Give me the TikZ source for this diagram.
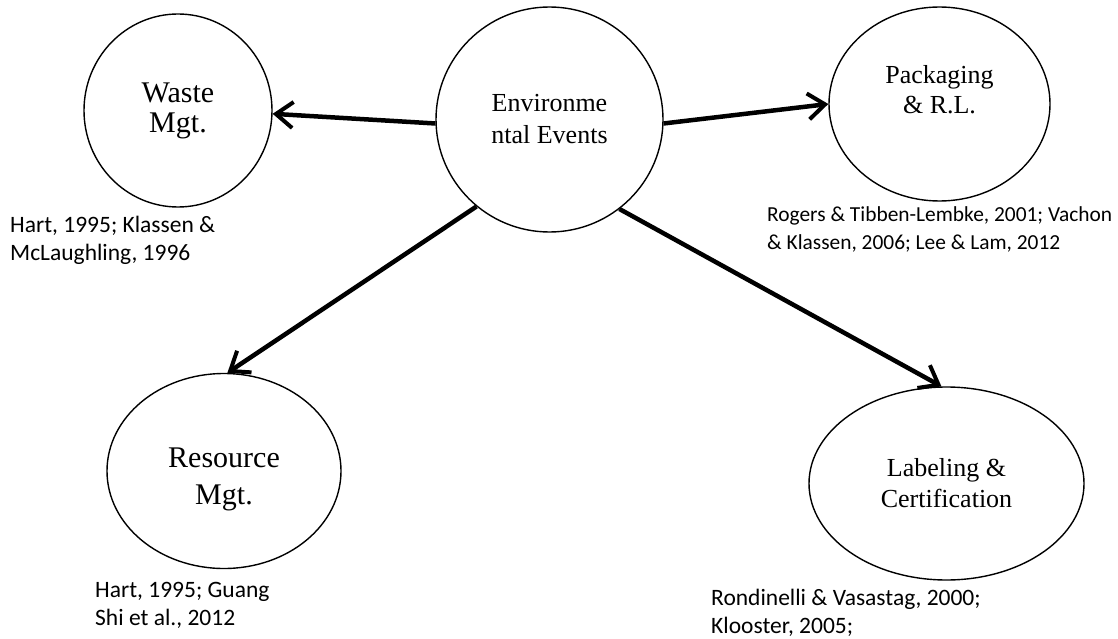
\documentclass[tikz,border=0pt]{standalone}
\usepackage{fontspec}
\setmainfont{Liberation Serif}
\newfontfamily\refsfont{Carlito}
\usetikzlibrary{shapes.geometric,arrows.meta}

\begin{document}
\begin{tikzpicture}[x=1pt,y=-1pt,
		circ/.style={draw,ellipse,line width=1.4pt,inner sep=0pt,align=center},
		circtxt/.style={align=center,inner sep=0pt},
		refs/.style={anchor=base west,align=left,inner sep=0pt,font=\refsfont\fontsize{23.5}{28}\selectfont},
		arr/.style={line width=4.5pt,-{Straight Barb[length=17pt,width=26pt,line width=4pt]}}]
				\useasboundingbox (0,0) rectangle (1118,639);

				% Centre
				\node[circ,minimum width=227pt,minimum height=225pt,font=\fontsize{26}{32}\selectfont] (env) at (549.5,119.5) {Environme\\ntal Events};

				% Waste
				\node[circ,minimum width=188pt,minimum height=193pt,font=\fontsize{30}{30}\selectfont] (waste) at (178,110.5) {Waste\\Mgt.};
				\node[refs] (wasteref) at (10,260) {Hart, 1995; Klassen \&\\McLaughling, 1996};

				% Packaging
				\node[circ,minimum width=221pt,minimum height=194pt] (pack) at (939.5,104) {};
				\node[circtxt,font=\fontsize{26}{30}\selectfont] (packtxt) at (939.5,90) {Packaging\\\& R.L.};
				\node[refs,font=\refsfont\fontsize{21.4}{28}\selectfont] (packref) at (767,249) {Rogers \& Tibben-Lembke, 2001; Vachon\\\& Klassen, 2006; Lee \& Lam, 2012};

				% Resource
				\node[circ,minimum width=234pt,minimum height=195pt] (res) at (224,471) {};
				\node[circtxt,font=\fontsize{30}{37}\selectfont] (restxt) at (224,479) {Resource\\Mgt.};
				\node[refs] (resref) at (95,625) {Hart, 1995; Guang\\Shi et al., 2012};

				% Labeling
				\node[circ,minimum width=275pt,minimum height=193pt,font=\fontsize{26}{31}\selectfont] (lab) at (946.5,483.5) {Labeling \&\\Certification};
				\node[refs] (labref) at (711,633) {Rondinelli \& Vasastag, 2000;\\Klooster, 2005;};

				% Arrows
				\draw[arr] (env.182) -- (waste.358.5);
				\draw[arr] (env.358) -- (pack.180);
				\draw[arr] (env.230) -- (res.88);
				\draw[arr] (env.308) -- (lab.93);
			\end{tikzpicture}
\end{document}
